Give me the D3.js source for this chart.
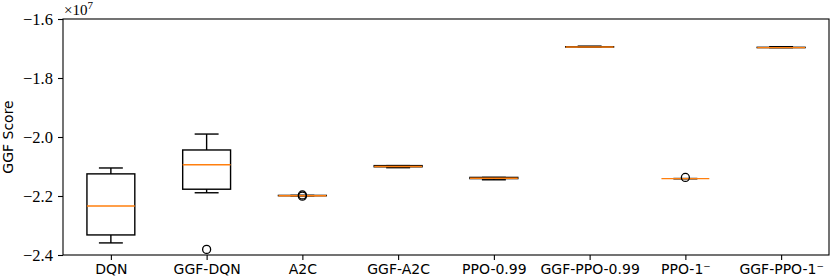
<!DOCTYPE html>
<html>
<head>
<meta charset="utf-8">
<script src="https://cdn.jsdelivr.net/npm/d3@7/dist/d3.min.js"></script>
<style>
  body { margin: 0; background: #fff; }
  svg { display: block; }
</style>
</head>
<body>
<div id="vis_canvas"></div>
<script>

// values in units of 1e7
var categories = ["DQN", "GGF-DQN", "A2C", "GGF-A2C", "PPO-0.99", "GGF-PPO-0.99", "PPO-1\u207B", "GGF-PPO-1\u207B"];
var whiskerLow  = [-2.359, -2.189, -2.199, -2.104, -2.145, -1.695, -2.141, -1.697];
var q1          = [-2.332, -2.177, -2.199, -2.101, -2.141, -1.695, -2.141, -1.697];
var median      = [-2.234, -2.094, -2.199, -2.100, -2.140, -1.695, -2.141, -1.697];
var q3          = [-2.125, -2.044, -2.198, -2.097, -2.137, -1.694, -2.141, -1.696];
var whiskerHigh = [-2.105, -1.990, -2.198, -2.097, -2.137, -1.692, -2.141, -1.694];
var outliers    = [[], [-2.381], [-2.1965, -2.2005], [], [], [], [-2.137], []];
var yTicks = [-2.4, -2.2, -2.0, -1.8, -1.6];

var data = categories.map(function(c, i) {
    return { name: c, lo: whiskerLow[i], q1: q1[i], med: median[i], q3: q3[i], hi: whiskerHigh[i], out: outliers[i] };
});

var margin = { top: 19, right: 1, bottom: 23, left: 63 }
var width = 830, height = 278
var w = width - margin.left - margin.right
var h = height - margin.top - margin.bottom

var x = d3.scalePoint().domain(categories).range([0, w]).padding(0.5)
var y = d3.scaleLinear().domain([-2.4, -1.6]).range([h, 0])
var boxW = x.step() * 0.5
var capW = x.step() * 0.25

var svg = d3.select('#vis_canvas').append('svg')
    .attr('width', width)
    .attr('height', height)

var g = svg.append('g')
    .attr('transform', 'translate(' + margin.left + ',' + margin.top + ')')

// axes
var xAxis = g.append('g')
    .attr('transform', 'translate(0,' + h + ')')
    .call(d3.axisBottom(x).tickSize(5).tickPadding(4))
xAxis.select('.domain').remove()
xAxis.selectAll('line').attr('stroke', '#000').attr('stroke-width', 1.1)
xAxis.selectAll('text')
    .attr('fill', '#000')
    .style('font-family', '"DejaVu Sans", sans-serif')
    .style('font-size', '14px')

var yAxis = g.append('g')
    .call(d3.axisLeft(y).tickValues(yTicks).tickFormat(d3.format('.1f')).tickSize(5).tickPadding(5))
yAxis.select('.domain').remove()
yAxis.selectAll('line').attr('stroke', '#000').attr('stroke-width', 1.1)
yAxis.selectAll('text')
    .attr('fill', '#000')
    .style('font-family', '"Liberation Serif", serif')
    .style('font-size', '16.5px')

// boxes
var box = g.selectAll('.box')
    .data(data)
    .enter().append('g')
    .attr('class', 'box')
    .attr('transform', function(d) { return 'translate(' + x(d.name) + ',0)' })

box.append('line')
    .attr('x1', 0).attr('x2', 0)
    .attr('y1', function(d) { return y(d.q3) })
    .attr('y2', function(d) { return y(d.hi) })
    .attr('stroke', '#000').attr('stroke-width', 1.4)
box.append('line')
    .attr('x1', 0).attr('x2', 0)
    .attr('y1', function(d) { return y(d.q1) })
    .attr('y2', function(d) { return y(d.lo) })
    .attr('stroke', '#000').attr('stroke-width', 1.4)
box.append('line')
    .attr('x1', -capW / 2).attr('x2', capW / 2)
    .attr('y1', function(d) { return y(d.hi) })
    .attr('y2', function(d) { return y(d.hi) })
    .attr('stroke', '#000').attr('stroke-width', 1.4)
box.append('line')
    .attr('x1', -capW / 2).attr('x2', capW / 2)
    .attr('y1', function(d) { return y(d.lo) })
    .attr('y2', function(d) { return y(d.lo) })
    .attr('stroke', '#000').attr('stroke-width', 1.4)
box.append('rect')
    .attr('x', -boxW / 2)
    .attr('width', boxW)
    .attr('y', function(d) { return y(d.q3) })
    .attr('height', function(d) { return y(d.q1) - y(d.q3) })
    .attr('fill', 'none')
    .attr('stroke', '#000').attr('stroke-width', 1.4)
box.append('line')
    .attr('x1', -boxW / 2).attr('x2', boxW / 2)
    .attr('y1', function(d) { return y(d.med) })
    .attr('y2', function(d) { return y(d.med) })
    .attr('stroke', '#ff7f0e').attr('stroke-width', 1.4)

box.selectAll('.flier')
    .data(function(d) { return d.out })
    .enter().append('circle')
    .attr('class', 'flier')
    .attr('cx', 0)
    .attr('cy', function(v) { return y(v) })
    .attr('r', 4)
    .attr('fill', 'none')
    .attr('stroke', '#000').attr('stroke-width', 1.3)

// frame
g.append('rect')
    .attr('width', w).attr('height', h)
    .attr('fill', 'none')
    .attr('stroke', '#000').attr('stroke-width', 1.1)

// offset text
var off = svg.append('text')
    .attr('x', margin.left + 1)
    .attr('y', 15)
    .style('font-family', '"Liberation Serif", serif')
    .style('font-size', '15px')
off.append('tspan').text('\u00D710')
off.append('tspan').attr('dy', -6).style('font-size', '11px').text('7')

svg.append('text')
    .attr('transform', 'translate(13,' + (margin.top + h / 2) + ') rotate(-90)')
    .attr('text-anchor', 'middle')
    .style('font-family', '"DejaVu Sans", sans-serif')
    .style('font-size', '14px')
    .text('GGF Score')

</script>
</body>
</html>
